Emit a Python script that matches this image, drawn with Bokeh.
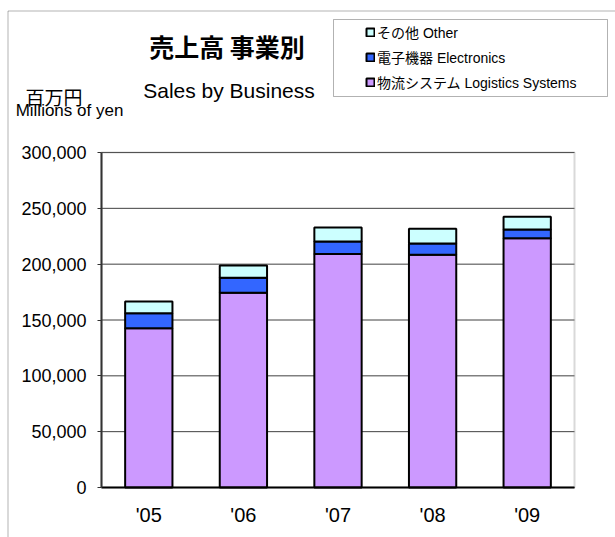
from bokeh.plotting import figure
from bokeh.models import (Range1d, FixedTicker, NumeralTickFormatter, Label, LinearAxis,
                          Legend, LegendItem, BoxAnnotation)
from bokeh.embed import file_html
from bokeh.resources import INLINE

# ---- data ----
years = ["'05", "'06", "'07", "'08", "'09"]
logistics = [142600, 174400, 209000, 208400, 223300]
electronics = [13500, 13400, 11400, 10100, 7800]
other = [10400, 11000, 12500, 13200, 11400]
y_ticks = [0, 50000, 100000, 150000, 200000, 250000, 300000]
series_keys = ["logistics", "electronics", "other"]
series_names = ["物流システム Logistics Systems", "電子機器 Electronics", "その他 Other"]
series_colors = ["#CC99FF", "#3366FF", "#CCFFFF"]

title_jp = "売上高 事業別"
title_en = "Sales by Business"
unit_jp = "百万円"
unit_en = "Millions of yen"

FONT = "Liberation Sans, Noto Sans CJK JP"

# ---- layout geometry (pixels) ----
W, H = 615, 537
PL, PR, PT, PB = 101, 574, 152, 487      # plot area edges
n = len(years)
pos = list(range(1, n + 1))               # category slots
x_lo, x_hi = 0.5, n + 0.5
y_lo, y_hi = y_ticks[0], y_ticks[-1]
ux = (PR - PL) / (x_hi - x_lo)
uy = (PB - PT) / (y_hi - y_lo)
x_range = Range1d(x_lo - PL / ux, x_hi + (W - PR) / ux)
y_range = Range1d(y_lo - (H - PB) / uy, y_hi + PT / uy)

p = figure(width=W, height=H, x_range=x_range, y_range=y_range, min_border=0,
           x_axis_location=None, y_axis_location=None,
           output_backend="svg", toolbar_location=None,
           background_fill_color="white", border_fill_color="white")
p.outline_line_color = None
p.grid.visible = False


def sx(px):
    return px


def sy(py):
    return H - py


# outer frame (only top and left edges visible)
p.add_layout(BoxAnnotation(left=sx(7.5), right=sx(W + 3), top=sy(10.5), bottom=sy(H + 3),
                           left_units="screen", right_units="screen",
                           top_units="screen", bottom_units="screen",
                           fill_alpha=0, line_color="black", line_width=1))

# plot area border
p.add_layout(BoxAnnotation(left=x_lo, right=x_hi, bottom=y_lo, top=y_hi,
                           fill_alpha=0, line_color="#808080", line_width=2, level="underlay"))

# horizontal gridlines
p.segment(x0=[x_lo] * len(y_ticks), x1=[x_hi] * len(y_ticks), y0=y_ticks, y1=y_ticks,
          line_color="#404040", line_width=1, level="underlay")

src = dict(pos=pos, logistics=logistics, electronics=electronics, other=other)
rs = p.vbar_stack(series_keys, x="pos", width=0.5, source=src,
                  fill_color=series_colors, line_color="black", line_width=2)

yaxis = LinearAxis(fixed_location=x_lo, bounds=(y_lo, y_hi),
                   ticker=FixedTicker(ticks=y_ticks),
                   formatter=NumeralTickFormatter(format="0,0"))
yaxis.axis_line_color = "#333333"
yaxis.axis_line_width = 2
yaxis.major_tick_out = 4
yaxis.major_tick_in = 0
yaxis.major_tick_line_color = "#333333"
yaxis.minor_tick_line_color = None
yaxis.major_label_standoff = 11
yaxis.major_label_text_font = "Liberation Sans"
yaxis.major_label_text_font_size = "18px"
yaxis.major_label_text_color = "black"
p.add_layout(yaxis, "left")

xaxis = LinearAxis(fixed_location=y_lo, bounds=(x_lo, x_hi),
                   ticker=FixedTicker(ticks=pos),
                   major_label_overrides={pp: yy for pp, yy in zip(pos, years)})
xaxis.axis_line_color = "black"
xaxis.axis_line_width = 2
xaxis.major_tick_line_color = None
xaxis.major_tick_out = 0
xaxis.major_tick_in = 0
xaxis.minor_tick_line_color = None
xaxis.major_label_standoff = 16
xaxis.major_label_text_font = "Liberation Sans"
xaxis.major_label_text_font_size = "20px"
xaxis.major_label_text_color = "black"
p.add_layout(xaxis, "below")

# legend box
p.add_layout(BoxAnnotation(left=sx(333), right=sx(607), top=sy(19), bottom=sy(96),
                           left_units="screen", right_units="screen",
                           top_units="screen", bottom_units="screen",
                           fill_color="white", fill_alpha=1, line_color="black", line_width=1))

items = [LegendItem(label=series_names[i], renderers=[rs[i]]) for i in [2, 1, 0]]
legend = Legend(items=items, location=(sx(365), sy(92)), padding=0, margin=0,
                spacing=5, glyph_width=10, glyph_height=10, label_height=20,
                label_standoff=2, border_line_color=None, background_fill_alpha=0,
                label_text_font=FONT, label_text_font_size="14px", label_text_color="black")
p.add_layout(legend, "center")

p.add_layout(Label(x=sx(226.5), y=sy(45), x_units="screen", y_units="screen", text=title_jp,
                   text_font="Noto Sans CJK JP", text_font_style="bold", text_font_size="25px",
                   text_align="center", text_baseline="middle", text_color="black"))
p.add_layout(Label(x=sx(228.5), y=sy(90), x_units="screen", y_units="screen", text=title_en,
                   text_font="Liberation Sans", text_font_size="21px",
                   text_align="center", text_baseline="alphabetic", text_color="black"))
p.add_layout(Label(x=sx(53.5), y=sy(95.5), x_units="screen", y_units="screen", text=unit_jp,
                   text_font="Noto Sans CJK JP", text_font_size="19px",
                   text_align="center", text_baseline="alphabetic", text_color="black"))
p.add_layout(Label(x=sx(69), y=sy(110), x_units="screen", y_units="screen", text=unit_en,
                   text_font="Liberation Sans", text_font_size="17px",
                   text_align="center", text_baseline="alphabetic", text_color="black"))

open("out.html", "w").write(file_html(p, INLINE))
